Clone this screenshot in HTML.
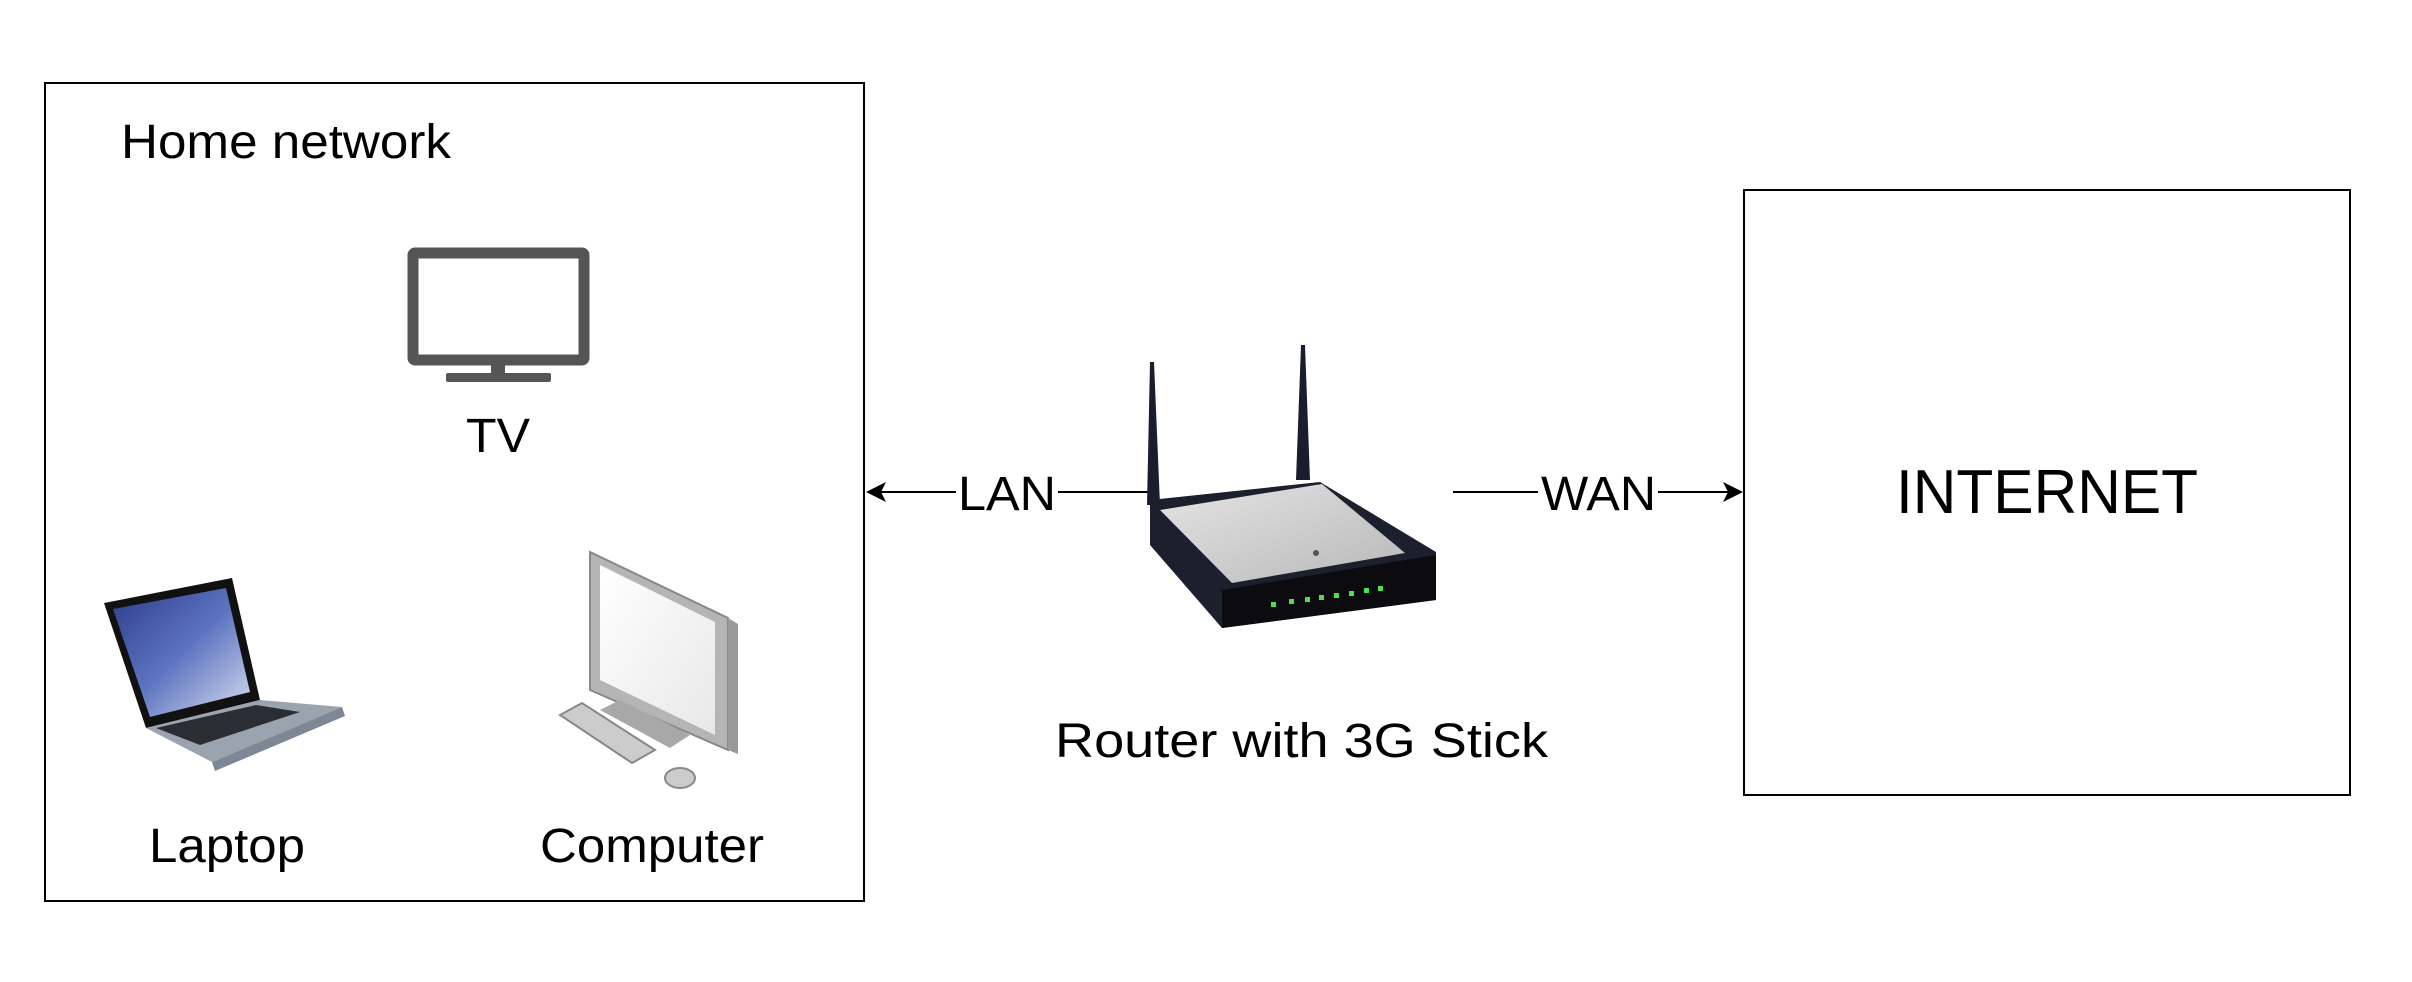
<!DOCTYPE html>
<html><head><meta charset="utf-8"><style>
html,body{margin:0;padding:0;background:#fff;width:2412px;height:982px;overflow:hidden}
text{font-family:"Liberation Sans",Arial,sans-serif;fill:#000}
</style></head><body>
<svg width="2412" height="982" viewBox="0 0 2412 982" xmlns="http://www.w3.org/2000/svg">
<defs>
<linearGradient id="scr" x1="0" y1="0" x2="1" y2="1"><stop offset="0" stop-color="#2d3c8a"/><stop offset="0.5" stop-color="#5c74c0"/><stop offset="1" stop-color="#d8def0"/></linearGradient>
<linearGradient id="plate" x1="0" y1="0" x2="1" y2="1"><stop offset="0" stop-color="#e4e4e4"/><stop offset="1" stop-color="#b8b8b8"/></linearGradient>
<linearGradient id="mon" x1="0" y1="0" x2="1" y2="1"><stop offset="0" stop-color="#fff"/><stop offset="1" stop-color="#e8e8e8"/></linearGradient>
</defs>
<rect x="45" y="83" width="819" height="818" fill="#fff" stroke="#000" stroke-width="2"/>
<text x="121" y="158" font-size="48" textLength="330" lengthAdjust="spacingAndGlyphs">Home network</text>
<rect x="413" y="253" width="171" height="107" fill="none" stroke="#555" stroke-width="11" rx="2"/>
<rect x="491" y="360" width="14" height="15" fill="#555"/>
<rect x="446" y="373" width="105" height="9" fill="#555" rx="2"/>
<text x="466" y="452" font-size="48" textLength="64" lengthAdjust="spacingAndGlyphs">TV</text>
<polygon points="104,603 232,578 260,700 146,728" fill="#111"/>
<polygon points="113,609 226,588 250,692 150,717" fill="url(#scr)"/>
<polygon points="146,728 260,700 342,707 212,762" fill="#9aa3ae"/>
<polygon points="156,728 256,705 300,712 200,745" fill="#2a2d33"/>
<polygon points="212,762 342,707 345,716 215,771" fill="#7e8794"/>
<text x="149" y="862" font-size="48" textLength="156" lengthAdjust="spacingAndGlyphs">Laptop</text>
<polygon points="590,552 728,618 728,750 590,690" fill="#b5b5b5" stroke="#888" stroke-width="2"/>
<polygon points="600,565 715,622 715,735 600,680" fill="url(#mon)"/>
<polygon points="728,618 738,624 738,754 728,750" fill="#999"/>
<polygon points="600,710 620,700 690,735 670,748" fill="#a8a8a8"/>
<polygon points="560,715 582,703 655,750 632,763" fill="#ccc" stroke="#888" stroke-width="2"/>
<ellipse cx="680" cy="778" rx="15" ry="10" fill="#ccc" stroke="#888" stroke-width="2"/>
<text x="540" y="862" font-size="48" textLength="224" lengthAdjust="spacingAndGlyphs">Computer</text>
<line x1="872" y1="492" x2="1152" y2="492" stroke="#000" stroke-width="2"/>
<polygon points="866,492 886,482 881,492 886,502" fill="#000"/>
<rect x="956" y="466" width="102" height="52" fill="#fff"/>
<text x="958" y="510" font-size="48" textLength="98" lengthAdjust="spacingAndGlyphs">LAN</text>
<polygon points="1150,362 1154,362 1160,505 1147,505" fill="#1a1d2e"/>
<polygon points="1301,345 1305,345 1310,480 1296,480" fill="#1a1d2e"/>
<polygon points="1150,500 1320,482 1436,552 1436,600 1222,628 1150,545" fill="#1c1f2c"/>
<polygon points="1160,510 1322,484 1405,553 1232,583" fill="url(#plate)"/>
<polygon points="1222,590 1436,555 1436,600 1222,628" fill="#0c0c10"/>
<g fill="#4ee04e"><rect x="1271" y="602" width="5" height="5"/><rect x="1289" y="599" width="5" height="5"/><rect x="1305" y="597" width="5" height="5"/><rect x="1319" y="595" width="5" height="5"/><rect x="1334" y="593" width="5" height="5"/><rect x="1349" y="591" width="5" height="5"/><rect x="1364" y="588" width="5" height="5"/><rect x="1378" y="586" width="5" height="5"/></g>
<circle cx="1316" cy="553" r="3" fill="#555"/>
<text x="1055" y="757" font-size="48" textLength="493" lengthAdjust="spacingAndGlyphs">Router with 3G Stick</text>
<line x1="1453" y1="492" x2="1735" y2="492" stroke="#000" stroke-width="2"/>
<polygon points="1743,492 1723,482 1728,492 1723,502" fill="#000"/>
<rect x="1538" y="466" width="120" height="52" fill="#fff"/>
<text x="1541" y="510" font-size="48" textLength="115" lengthAdjust="spacingAndGlyphs">WAN</text>
<rect x="1744" y="190" width="606" height="605" fill="#fff" stroke="#000" stroke-width="2"/>
<text x="1896" y="513" font-size="62" textLength="302" lengthAdjust="spacingAndGlyphs">INTERNET</text>
</svg>
</body></html>
